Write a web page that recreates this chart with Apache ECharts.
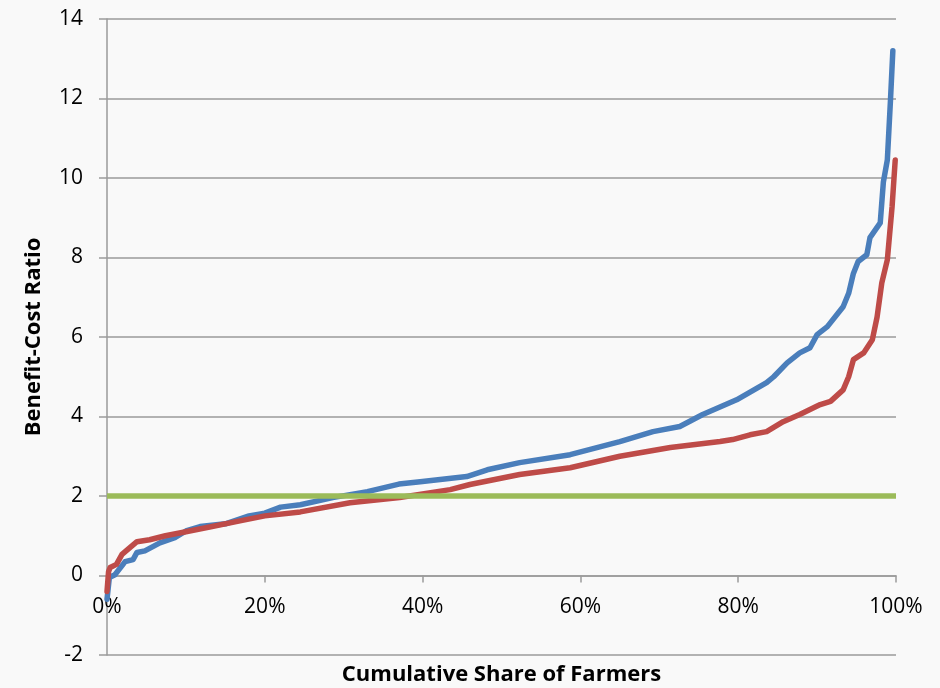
<!DOCTYPE html>
<html>
<head>
<meta charset="utf-8">
<script src="https://cdn.jsdelivr.net/npm/echarts@6/dist/echarts.min.js"></script>
<style>
  html, body { margin: 0; padding: 0; background: #f9f9f9; }
  #chartDiv { width: 940px; height: 688px; }
</style>
</head>
<body>
<div id="chartDiv"></div>
<script>
// cumulative share of farmers (%) and benefit-cost ratio
var blueShare = [0, 0.3, 1, 2.3, 3.3, 3.8, 4.8, 6.7, 8.6, 10, 11.8, 15, 18, 20, 22, 24.5, 28.6, 33, 37, 39.7, 45.6, 48.2, 52.3, 58.7, 65, 69.2, 72.6, 75.5, 79.8, 83.6, 84.5, 86.2, 87.8, 89.1, 90, 91.3, 93.3, 94, 94.6, 95.2, 96.3, 96.7, 98, 98.4, 98.9, 99.3, 99.6];
var blueRatio = [-0.6, -0.05, 0.02, 0.35, 0.4, 0.58, 0.62, 0.82, 0.95, 1.12, 1.23, 1.3, 1.5, 1.57, 1.72, 1.78, 1.96, 2.11, 2.3, 2.36, 2.49, 2.66, 2.84, 3.04, 3.37, 3.62, 3.75, 4.05, 4.42, 4.85, 5.0, 5.35, 5.6, 5.73, 6.06, 6.26, 6.76, 7.1, 7.6, 7.9, 8.07, 8.5, 8.87, 9.9, 10.45, 11.96, 13.2];

var redShare = [0, 0.2, 0.4, 1.2, 1.9, 2.9, 3.8, 5.4, 7.4, 10, 13, 17, 20, 24.5, 30.8, 37.1, 43.5, 46, 52.3, 58.7, 65, 71.4, 77.7, 79.3, 81.5, 83.6, 85.7, 87.8, 90.4, 91.7, 93.3, 94, 94.6, 95.9, 97, 97.6, 98.2, 98.9, 99.5, 99.9];
var redRatio = [-0.4, 0.1, 0.2, 0.28, 0.53, 0.7, 0.85, 0.9, 1.0, 1.1, 1.22, 1.38, 1.5, 1.6, 1.83, 1.96, 2.16, 2.29, 2.54, 2.71, 3.0, 3.22, 3.37, 3.42, 3.54, 3.62, 3.87, 4.05, 4.3, 4.38, 4.67, 5.0, 5.43, 5.6, 5.93, 6.5, 7.36, 7.94, 9.27, 10.45];

var thresholdShare = [0, 100];
var thresholdRatio = [2, 2];

var yTicks = [-2, 0, 2, 4, 6, 8, 10, 12, 14];
var xTicks = [0, 20, 40, 60, 80, 100];

function pairs(xs, ys){
	var out = [];
	for (var i = 0; i < xs.length; i++) {
		out.push([xs[i], ys[i]]);
	}
	return out;
}

var font = '"Open Sans", sans-serif';
var gray = '#9a9a9a';

option = {
	backgroundColor: '#f9f9f9',
	animation: false,
	grid: { left: 107, right: 44, top: 19, bottom: 33, outerBoundsMode: 'none', containLabel: false },
	xAxis: {
		type: 'value',
		min: xTicks[0],
		max: xTicks[xTicks.length - 1],
		interval: 20,
		name: 'Cumulative Share of Farmers',
		nameLocation: 'middle',
		nameGap: 9,
		nameTextStyle: { fontFamily: font, fontWeight: 'bold', fontSize: 22, color: '#000' },
		axisLine: { onZero: true, lineStyle: { color: gray, width: 1.5 } },
		axisTick: { show: true, inside: false, length: 7, lineStyle: { color: gray, width: 1.5 } },
		// labels sit just under the zero line, not at the bottom edge
		axisLabel: { formatter: '{value}%', fontFamily: font, fontSize: 21, color: '#000', margin: -58 },
		splitLine: { show: false }
	},
	yAxis: {
		type: 'value',
		min: yTicks[0],
		max: yTicks[yTicks.length - 1],
		interval: 2,
		name: 'Benefit-Cost Ratio',
		nameLocation: 'middle',
		nameGap: 62,
		nameTextStyle: { fontFamily: font, fontWeight: 'bold', fontSize: 22, color: '#000' },
		axisLine: { show: true, onZero: false, lineStyle: { color: gray, width: 1.5 } },
		axisTick: { show: true, inside: false, length: 8, lineStyle: { color: gray, width: 1.5 } },
		axisLabel: { fontFamily: font, fontSize: 21, color: '#000', margin: 24 },
		splitLine: { show: true, lineStyle: { color: gray, width: 1.5 } }
	},
	series: [
		{
			name: 'blue',
			type: 'line',
			showSymbol: false,
			symbol: 'none',
			data: pairs(blueShare, blueRatio),
			lineStyle: { color: '#4a7ebb', width: 5.5, cap: 'round', join: 'round' }
		},
		{
			name: 'red',
			type: 'line',
			showSymbol: false,
			symbol: 'none',
			data: pairs(redShare, redRatio),
			lineStyle: { color: '#be4b48', width: 5.5, cap: 'round', join: 'round' }
		},
		{
			name: 'threshold',
			type: 'line',
			showSymbol: false,
			symbol: 'none',
			data: pairs(thresholdShare, thresholdRatio),
			lineStyle: { color: '#9bbb59', width: 5.5 }
		}
	]
};

var myChart = echarts.init(document.getElementById('chartDiv'));
myChart.setOption(option, true);
</script>
</body>
</html>
